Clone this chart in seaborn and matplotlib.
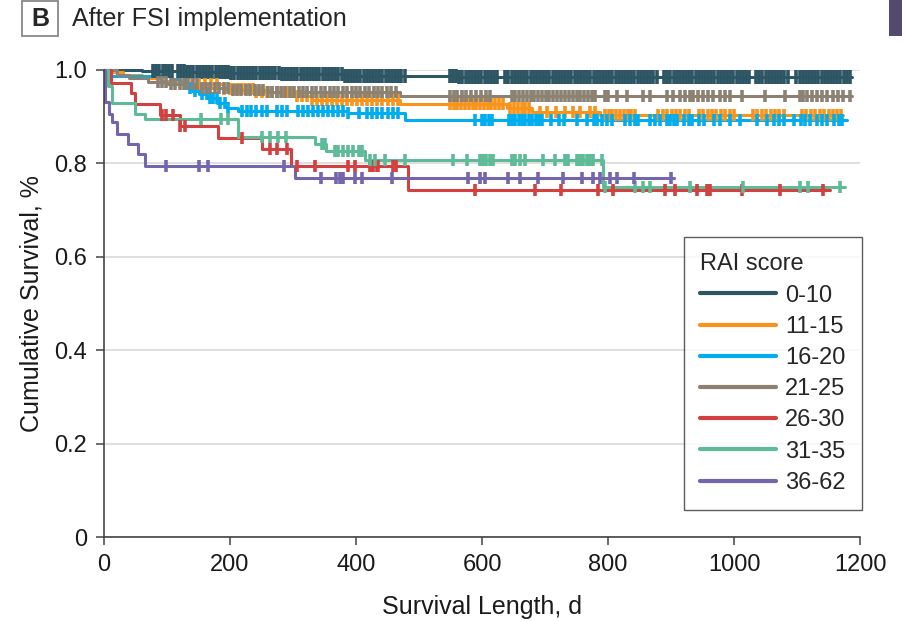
import numpy as np
import pandas as pd
import matplotlib
matplotlib.use("Agg")
import matplotlib.pyplot as plt
import seaborn as sns
from matplotlib.lines import Line2D
from matplotlib.patches import Rectangle

sns.set_theme(style="ticks")
plt.rcParams["font.family"] = ["Liberation Sans", "DejaVu Sans"]

# ---------------- data ----------------
groups = ["0-10", "11-15", "16-20", "21-25", "26-30", "31-35", "36-62"]
colors = ["#2d5564", "#f7941d", "#00aeef", "#8b8273", "#d2403f", "#5dbb98", "#7565ad"]

# step-function change points (day, survival) per RAI group
t_0010 = [0, 60, 130, 200, 280, 380, 560, 1187]
s_0010 = [1.0, 0.998, 0.996, 0.993, 0.991, 0.988, 0.986, 0.986]

t_1115 = [0, 10, 30, 60, 90, 130, 190, 240, 300, 330, 470, 640, 679, 787, 1173]
s_1115 = [1.0, 0.995, 0.99, 0.982, 0.976, 0.969, 0.96, 0.952, 0.944, 0.935, 0.927, 0.918, 0.911, 0.904, 0.904]

t_1620 = [0, 8, 106, 120, 130, 140, 150, 165, 180, 195, 212, 388, 478, 1179]
s_1620 = [1.0, 0.987, 0.980, 0.970, 0.962, 0.955, 0.948, 0.941, 0.930, 0.918, 0.912, 0.907, 0.892, 0.892]

t_2125 = [0, 20, 40, 70, 100, 150, 200, 260, 470, 1187]
s_2125 = [1.0, 0.99, 0.983, 0.975, 0.969, 0.962, 0.957, 0.952, 0.945, 0.945]

t_2630 = [0, 11, 43, 49, 89, 120, 181, 250, 297, 483, 1152]
s_2630 = [1.0, 0.972, 0.95, 0.927, 0.904, 0.881, 0.854, 0.83, 0.795, 0.742, 0.742]

t_3135 = [0, 7, 12, 49, 65, 213, 335, 353, 414, 792, 1176]
s_3135 = [1.0, 0.965, 0.929, 0.906, 0.895, 0.857, 0.842, 0.827, 0.807, 0.749, 0.749]

t_3662 = [0, 2, 8, 12, 20, 38, 54, 65, 303, 905]
s_3662 = [1.0, 0.931, 0.906, 0.889, 0.863, 0.842, 0.82, 0.795, 0.769, 0.769]

# censoring times (days) per RAI group
c_0010 = [78, 83, 88, 93, 98, 103, 108, 117, 122, 127, 132, 137, 142, 147, 152, 157, 162, 167, 172,
          177, 182, 187, 192, 197, 202, 207, 212, 217, 222, 227, 232, 237, 242, 247, 252, 257, 262,
          267, 272, 277, 282, 287, 292, 297, 302, 307, 312, 317, 322, 327, 332, 337, 342, 347, 352,
          357, 362, 367, 372, 377, 382, 387, 392, 397, 402, 407, 412, 417, 422, 427, 432, 437, 442,
          447, 452, 457, 462, 467, 472, 477, 549, 554, 559, 564, 569, 574, 579, 584, 589, 594, 599,
          604, 609, 614, 619, 624, 637, 642, 647, 652, 657, 662, 667, 672, 677, 682, 687, 692, 697,
          702, 707, 712, 717, 722, 727, 732, 737, 742, 747, 752, 757, 762, 767, 772, 777, 782, 787,
          792, 797, 802, 807, 812, 817, 822, 827, 832, 837, 842, 847, 852, 857, 862, 867, 872, 877,
          889, 894, 899, 904, 909, 914, 919, 924, 929, 934, 939, 944, 949, 954, 959, 964, 969, 974,
          979, 984, 989, 994, 999, 1004, 1009, 1014, 1019, 1024, 1035, 1040, 1045, 1050, 1055, 1060,
          1065, 1070, 1075, 1080, 1085, 1099, 1104, 1109, 1114, 1119, 1124, 1129, 1134, 1139, 1144,
          1149, 1154, 1159, 1164, 1169, 1174, 1179, 1184]
c_1115 = [140, 150, 160, 170, 180, 190, 200, 206, 212, 218, 224, 230, 236, 242, 250, 258, 266, 274,
          282, 290, 298, 306, 314, 322, 330, 338, 346, 354, 362, 370, 378, 386, 394, 402, 410, 418,
          426, 434, 442, 450, 458, 466, 549, 555, 561, 567, 573, 579, 585, 591, 597, 603, 609, 615,
          621, 627, 633, 645, 651, 657, 663, 669, 675, 692, 703, 718, 731, 744, 755, 771, 779, 795,
          801, 807, 813, 819, 825, 831, 837, 843, 880, 887, 894, 901, 908, 915, 922, 929, 944, 951,
          958, 965, 972, 979, 986, 993, 1000, 1030, 1037, 1044, 1051, 1058, 1065, 1072, 1079, 1108,
          1115, 1122, 1129, 1136, 1143, 1150, 1157, 1164, 1170]
c_1620 = [129, 137, 144, 155, 163, 168, 173, 179, 184, 192, 197, 219, 227, 234, 242, 250, 258, 274,
          282, 290, 308, 316, 324, 332, 340, 348, 356, 364, 372, 380, 388, 404, 417, 425, 433, 441,
          451, 459, 467, 589, 600, 605, 611, 616, 643, 648, 653, 659, 664, 669, 675, 680, 685, 691,
          696, 709, 722, 730, 750, 766, 777, 782, 790, 798, 806, 827, 835, 843, 848, 867, 875, 883,
          893, 899, 904, 909, 920, 928, 933, 944, 952, 968, 978, 994, 1010, 1036, 1052, 1063, 1071,
          1079, 1095, 1106, 1113, 1121, 1132, 1140, 1148, 1158, 1166, 1172]
c_2125 = [85, 92, 99, 106, 113, 120, 127, 134, 141, 148, 155, 162, 169, 176, 183, 190, 197, 204, 211,
          218, 225, 232, 239, 246, 253, 260, 267, 274, 281, 288, 295, 302, 309, 316, 323, 330, 337,
          344, 351, 358, 365, 372, 379, 386, 393, 400, 407, 414, 421, 428, 435, 442, 449, 456, 463,
          549, 555, 561, 568, 575, 582, 590, 598, 606, 613, 647, 653, 659, 665, 671, 677, 683, 689,
          695, 701, 707, 713, 719, 725, 731, 738, 744, 750, 756, 762, 768, 774, 780, 795, 800, 814,
          830, 856, 867, 893, 903, 914, 922, 930, 935, 943, 951, 959, 967, 978, 986, 994, 1013, 1049,
          1081, 1105, 1110, 1116, 1124, 1132, 1140, 1148, 1157, 1165, 1173, 1184]
c_2630 = [92, 99, 110, 121, 129, 219, 263, 274, 290, 306, 335, 388, 398, 422, 427, 433, 435, 459, 464,
          589, 684, 726, 784, 808, 890, 906, 941, 957, 962, 1012, 1073, 1142]
c_3135 = [154, 186, 197, 250, 263, 276, 289, 346, 351, 367, 372, 380, 388, 396, 404, 409, 422, 430,
          446, 478, 554, 576, 597, 602, 607, 613, 618, 647, 652, 660, 668, 697, 716, 732, 737, 750,
          756, 761, 766, 771, 776, 790, 795, 843, 856, 867, 930, 1015, 1105, 1118, 1168]
c_3662 = [99, 150, 165, 285, 345, 369, 375, 379, 398, 409, 457, 578, 597, 605, 641, 660, 689, 729,
          758, 776, 787, 803, 814, 841, 900]

step_days = [t_0010, t_1115, t_1620, t_2125, t_2630, t_3135, t_3662]
step_surv = [s_0010, s_1115, s_1620, s_2125, s_2630, s_3135, s_3662]
censored = [c_0010, c_1115, c_1620, c_2125, c_2630, c_3135, c_3662]

x_ticks = [0, 200, 400, 600, 800, 1000, 1200]
y_ticks = [0, 0.2, 0.4, 0.6, 0.8, 1.0]
y_tick_labels = ["0", "0.2", "0.4", "0.6", "0.8", "1.0"]

# ---------------- tables ----------------
rows, crow = [], []
for g, t, s, c in zip(groups, step_days, step_surv, censored):
    for a, b in zip(t, s):
        rows.append((g, a, b))
    idx = np.searchsorted(np.array(t), np.array(c), side="right") - 1
    for a, b in zip(c, np.array(s)[idx]):
        crow.append((g, a, b))
curves = pd.DataFrame(rows, columns=["group", "day", "surv"])
marks = pd.DataFrame(crow, columns=["group", "day", "surv"])
palette = dict(zip(groups, colors))

# ---------------- figure ----------------
W, H = 902, 621
fig = plt.figure(figsize=(W / 100, H / 100), dpi=100)
ax = fig.add_axes([104 / W, 1 - 537 / H, 756 / W, 467 / H])

for g in groups:
    sub = curves[curves["group"] == g]
    sns.lineplot(data=sub, x="day", y="surv", color=palette[g], drawstyle="steps-post",
                 estimator=None, sort=False, lw=2.2, ax=ax, legend=False, clip_on=False)
    subm = marks[marks["group"] == g]
    sns.scatterplot(data=subm, x="day", y="surv", color=palette[g], marker="|",
                    s=90 if g == "0-10" else 64, linewidth=2.6, ax=ax, legend=False,
                    clip_on=False, zorder=3)

ax.set_xlim(0, 1200)
ax.set_ylim(0, 1.0)
ax.set_xticks(x_ticks)
ax.set_xticklabels([str(v) for v in x_ticks])
ax.set_yticks(y_ticks)
ax.set_yticklabels(y_tick_labels)
ax.yaxis.grid(True, color="#dcdcdc", lw=1.3)
ax.set_axisbelow(True)
for sp in ["top", "right"]:
    ax.spines[sp].set_visible(False)
for sp in ["left", "bottom"]:
    ax.spines[sp].set_color("#444444")
    ax.spines[sp].set_linewidth(1.2)
ax.tick_params(direction="out", length=6, width=1.1, color="#444444", labelsize=17,
               labelcolor="#1a1a1a", pad=6)
ax.set_xlabel("Survival Length, d", fontsize=18, labelpad=14, color="#1a1a1a")
ax.set_ylabel("Cumulative Survival, %", fontsize=18, labelpad=8, color="#1a1a1a")

handles = [Line2D([0], [0], color=palette[g], lw=3) for g in groups]
leg = ax.legend(handles, groups, title="RAI score", loc="lower right",
                bbox_to_anchor=(1.002, 0.058), fontsize=17, title_fontsize=17,
                frameon=True, fancybox=False, edgecolor="#333333", handlelength=3.2,
                handletextpad=0.4, labelspacing=0.39, borderpad=0.68, alignment="left",
                borderaxespad=0)
leg.get_frame().set_linewidth(1.0)

# panel heading
fig.patches.append(Rectangle((22 / W, 1 - 36 / H), 36 / W, 35 / H, transform=fig.transFigure,
                             facecolor="white", edgecolor="#888888", lw=1.3))
fig.text(40 / W, 1 - 19 / H, "B", ha="center", va="center", fontsize=18, fontweight="bold")
fig.text(72 / W, 1 - 19 / H, "After FSI implementation", ha="left", va="center", fontsize=18)
fig.patches.append(Rectangle((889 / W, 1 - 36 / H), 13 / W, 36 / H, transform=fig.transFigure,
                             facecolor="#54496f", edgecolor="none"))

fig.savefig("out.png", dpi=100)
